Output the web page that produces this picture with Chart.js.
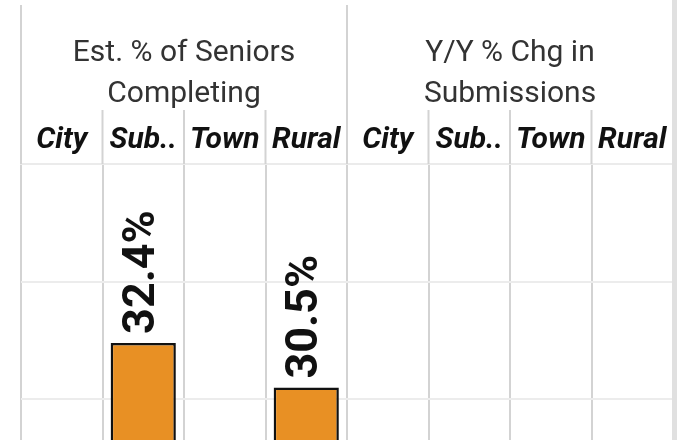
<!DOCTYPE html>
<html>
<head>
<meta charset="utf-8">
<script src="https://cdn.jsdelivr.net/npm/chart.js@4.4.1/dist/chart.umd.min.js"></script>
<style>
    html, body { margin: 0; padding: 0; background: #fff; overflow: hidden; }
    #wrap { width: 677px; height: 440px; overflow: hidden; position: relative; }
    #box { width: 677px; height: 470px; }
</style>
</head>
<body>
<div id="wrap"><div id="box"><canvas id="myChart"></canvas></div></div>
<script>
const panelTitles = [['Est. % of Seniors', 'Completing'], ['Y/Y % Chg in', 'Submissions']];
const regions = ['City', 'Sub..', 'Town', 'Rural'];
const seniorsCompleting = [null, 32.4, null, 30.5];
const yoyChange = [null, null, null, null];
const yTicks = [30, 35, 40];

const labels = regions.concat(regions);
const values = seniorsCompleting.concat(yoyChange);

// заголовки панелей и разделители над осью
const headerPlugin = {
    id: 'header',
    afterDraw(chart) {
        const ctx = chart.ctx;
        const x = chart.scales.x;
        const top = chart.chartArea.top;
        const step = x.getPixelForValue(1) - x.getPixelForValue(0);
        const edge = i => x.getPixelForValue(0) - step / 2 + i * step;

        ctx.save();
        ctx.strokeStyle = '#d3d3d3';
        ctx.lineWidth = 2;
        for (let i = 0; i <= labels.length; i++) {
            const px = edge(i);
            const fromY = (i % regions.length === 0) ? 5 : 110;
            ctx.beginPath();
            ctx.moveTo(px, fromY);
            ctx.lineTo(px, top);
            ctx.stroke();
        }

        ctx.fillStyle = '#e0e0e0';
        ctx.fillRect(672, 0, 5, chart.height);

        ctx.fillStyle = '#333333';
        ctx.font = '30px Roboto';
        ctx.textAlign = 'center';
        ctx.textBaseline = 'middle';
        panelTitles.forEach((lines, p) => {
            const cx = (edge(p * regions.length) + edge((p + 1) * regions.length)) / 2;
            lines.forEach((t, k) => ctx.fillText(t, cx, 53 + k * 41));
        });
        ctx.restore();
    }
};

// подписи значений над столбцами, повернутые
const barLabelPlugin = {
    id: 'barLabels',
    afterDatasetsDraw(chart) {
        const ctx = chart.ctx;
        const meta = chart.getDatasetMeta(0);
        ctx.save();
        ctx.fillStyle = '#111111';
        ctx.font = 'bold 45px Roboto';
        ctx.textAlign = 'left';
        ctx.textBaseline = 'middle';
        meta.data.forEach((bar, i) => {
            const v = values[i];
            if (v === null) return;
            ctx.save();
            ctx.translate(bar.x - 1, bar.y - 9);
            ctx.rotate(-Math.PI / 2);
            ctx.fillText(v.toFixed(1) + '%', 0, 0);
            ctx.restore();
        });
        ctx.restore();
    }
};

const ctx = document.getElementById('myChart').getContext('2d');
const chart = new Chart(ctx, {
    type: 'bar',
    data: {
        labels,
        datasets: [{
            data: values,
            backgroundColor: '#E89024',
            borderColor: '#111111',
            borderWidth: 2.5,
            barPercentage: 0.8,
            categoryPercentage: 1
        }]
    },
    options: {
        responsive: true,
        maintainAspectRatio: false,
        animation: false,
        layout: { padding: { left: 21, right: 4, top: 116, bottom: 0 } },
        plugins: {
            legend: { display: false },
            tooltip: { enabled: false }
        },
        scales: {
            x: {
                position: 'top',
                grid: { offset: true, color: '#d3d3d3', lineWidth: 2, drawTicks: false },
                border: { display: true, color: '#ebebeb', width: 2 },
                ticks: {
                    autoSkip: false,
                    maxRotation: 0,
                    padding: 6,
                    color: '#111111',
                    font: { family: 'Roboto', size: 30, weight: 'bold', style: 'italic' }
                }
            },
            y: {
                min: 27,
                max: 40,
                afterBuildTicks: s => { s.ticks = yTicks.map(v => ({ value: v })); },
                afterFit: s => { s.width = 0; },
                grid: { color: '#ececec', lineWidth: 2, drawTicks: false },
                border: { display: false },
                ticks: { display: false }
            }
        }
    },
    plugins: [headerPlugin, barLabelPlugin]
});
</script>
</body>
</html>
